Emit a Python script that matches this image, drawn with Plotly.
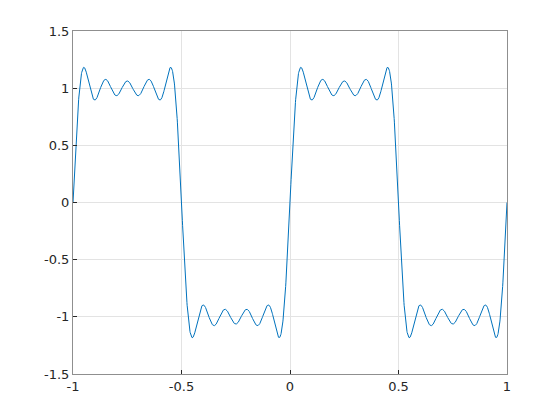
import numpy as np
import plotly.graph_objects as go

# Fourier partial sum of a square wave (period 1): odd harmonics and their amplitudes
harmonics = [1, 3, 5, 7, 9]
amplitudes = [4 / np.pi / k for k in harmonics]
x_range = [-1, 1]
x_ticks = [-1, -0.5, 0, 0.5, 1]
x_tick_labels = ["-1", "-0.5", "0", "0.5", "1"]
y_ticks = [-1.5, -1, -0.5, 0, 0.5, 1, 1.5]
y_tick_labels = ["-1.5", "-1", "-0.5", "0", "0.5", "1", "1.5"]

x = np.linspace(x_range[0], x_range[1], 2001)
y = sum(a * np.sin(2 * np.pi * k * x) for k, a in zip(harmonics, amplitudes))

fig = go.Figure()
fig.add_trace(go.Scatter(x=x, y=y, mode="lines",
                         line=dict(color="#0072BD", width=1)))

axis_common = dict(
    showgrid=True, gridcolor="#e3e3e3", gridwidth=1,
    zeroline=False, showline=True, linecolor="#8f8f8f", linewidth=1,
    mirror=True, ticks="inside", ticklen=4, tickcolor="#262626",
    tickfont=dict(family="DejaVu Sans", size=13, color="#262626"),
)

fig.update_layout(
    width=560, height=420,
    margin=dict(l=65, r=61, t=23, b=54),
    paper_bgcolor="white", plot_bgcolor="white",
    showlegend=False,
    xaxis=dict(range=x_range, tickvals=x_ticks, ticktext=x_tick_labels, **axis_common),
    yaxis=dict(range=[-1.5, 1.5], tickvals=y_ticks, ticktext=y_tick_labels, **axis_common),
)

fig.write_html("out.html")
